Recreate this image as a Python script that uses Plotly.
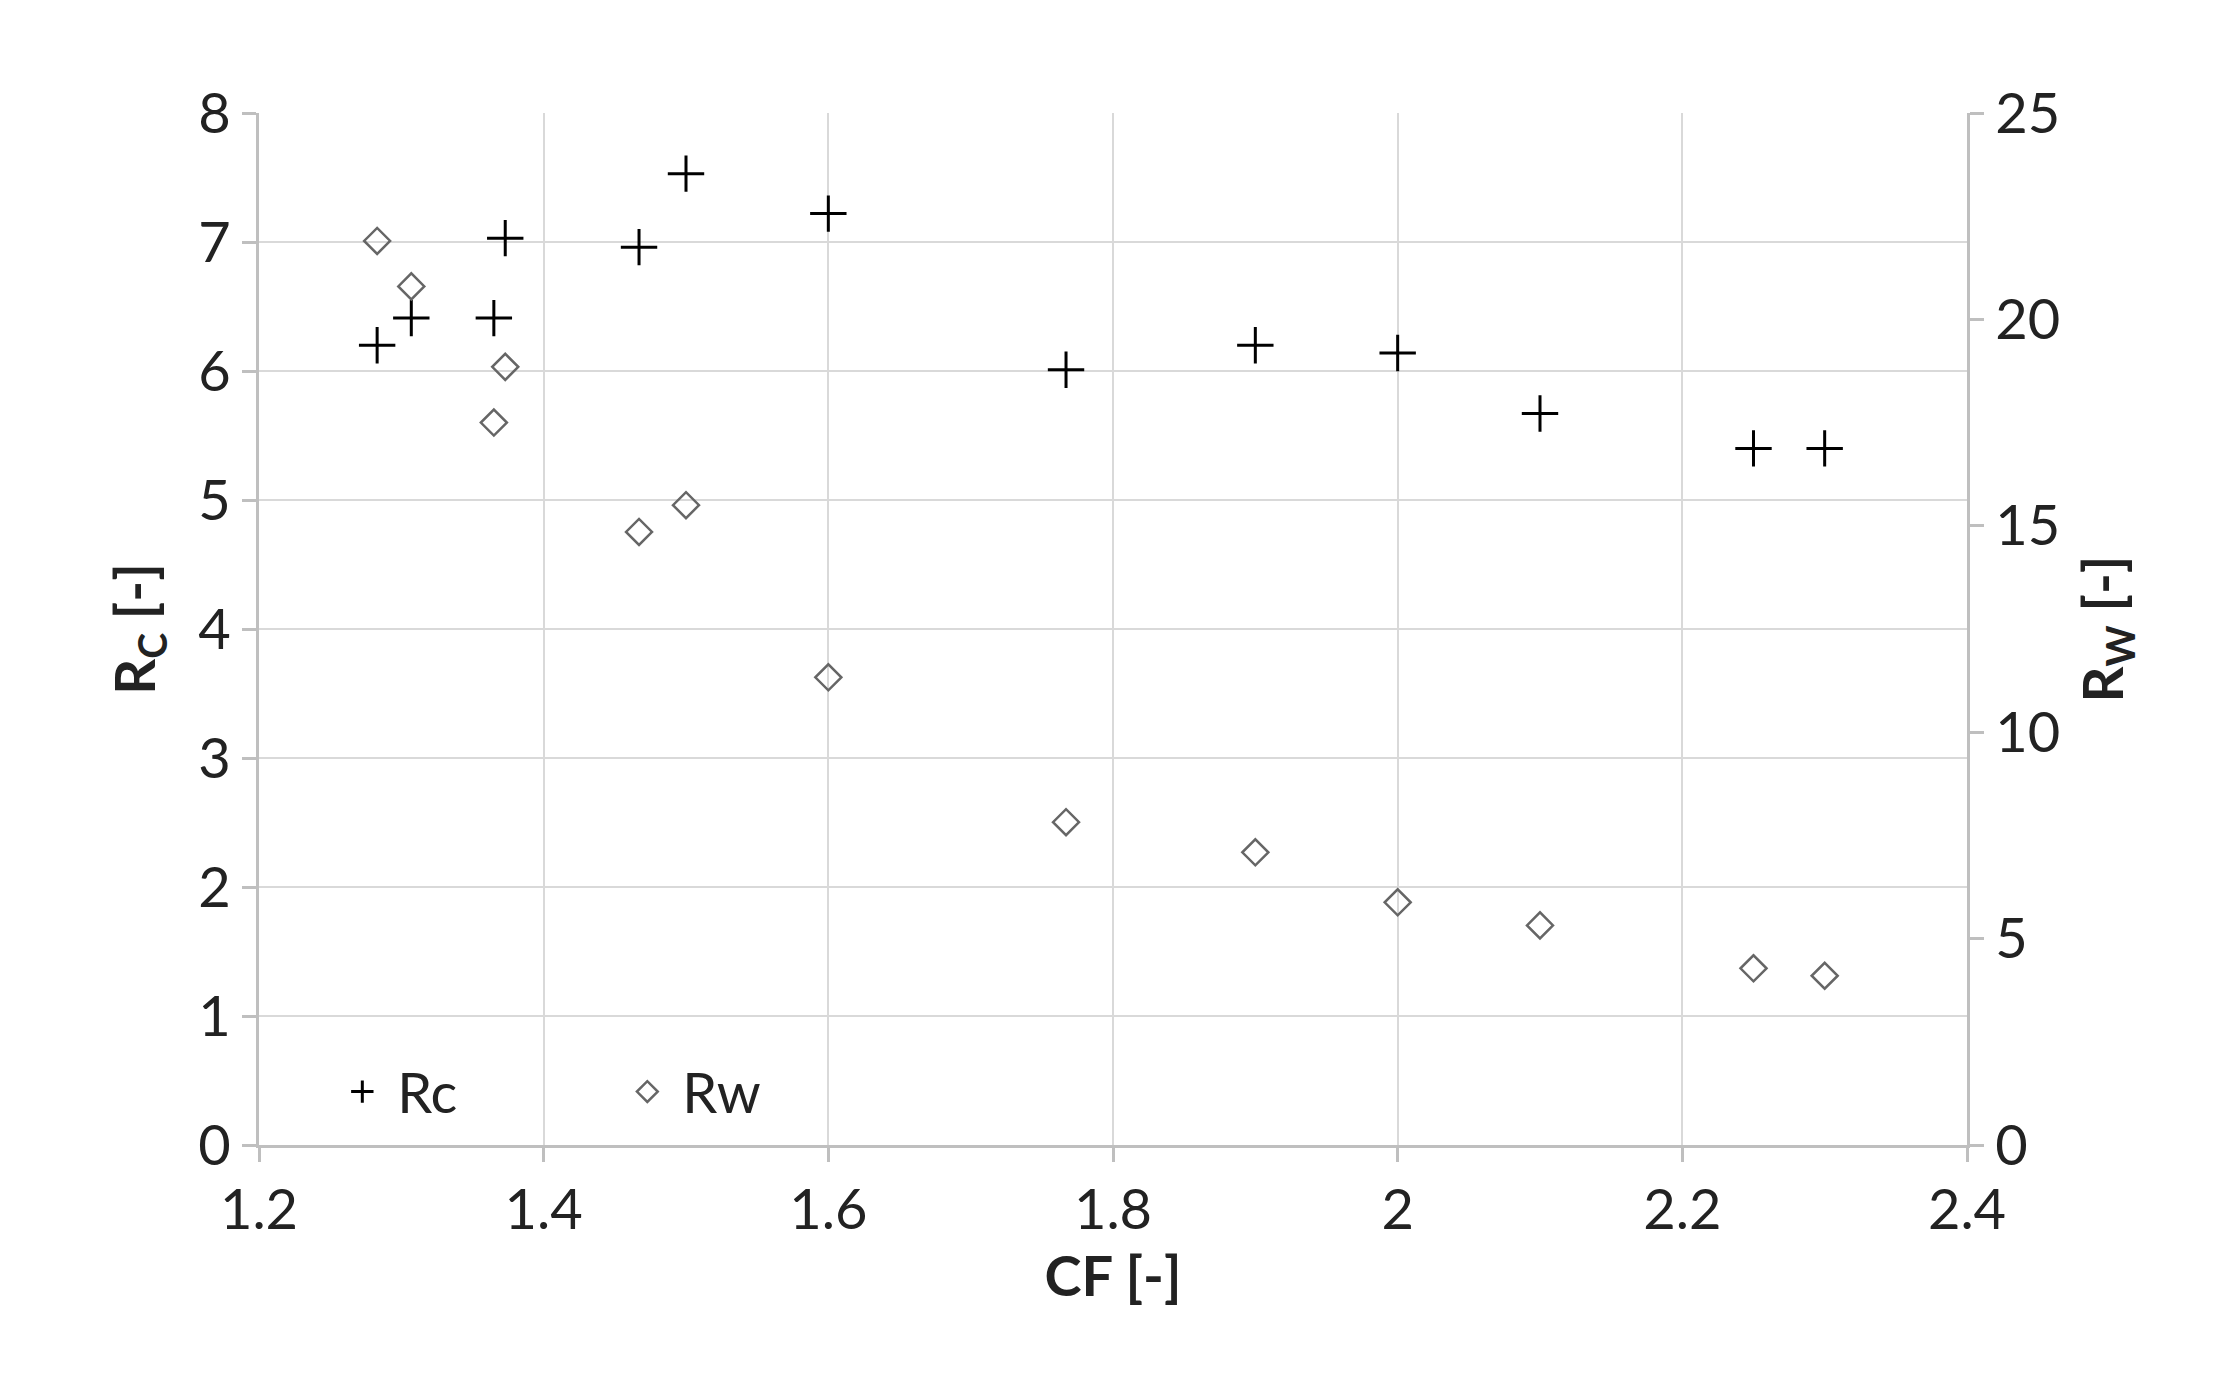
import plotly.graph_objects as go

cf_rc = [1.283, 1.307, 1.365, 1.373, 1.467, 1.5, 1.6, 1.767, 1.9, 2.0, 2.1, 2.25, 2.3]
rc = [6.20, 6.41, 6.41, 7.03, 6.96, 7.53, 7.22, 6.01, 6.20, 6.14, 5.67, 5.40, 5.40]
cf_rw = [1.283, 1.307, 1.373, 1.365, 1.467, 1.5, 1.6, 1.767, 1.9, 2.0, 2.1, 2.25, 2.3]
rw = [21.9, 20.8, 18.85, 17.5, 14.85, 15.5, 11.33, 7.82, 7.09, 5.88, 5.32, 4.28, 4.10]

font = "Lato, Open Sans, sans-serif"
fig = go.Figure()
fig.add_trace(go.Scatter(x=cf_rc, y=rc, mode="markers", name="Rc  ",
    marker=dict(symbol="cross-thin", size=26, line=dict(color="black", width=3))))
fig.add_trace(go.Scatter(x=cf_rw, y=rw, mode="markers", name="Rw", yaxis="y2",
    marker=dict(symbol="diamond-open", size=20, color="#666", line=dict(width=2.5))))

ax = dict(showline=True, linecolor="#bfbfbf", linewidth=3, gridcolor="#d9d9d9", gridwidth=2,
          tickfont=dict(size=56, color="#222", family=font), ticks="outside", ticklen=14,
          tickcolor="#bfbfbf", tickwidth=3, zeroline=False)
tf = dict(size=56, color="#222")
fig.update_layout(
    width=2239, height=1375, plot_bgcolor="white", paper_bgcolor="white",
    margin=dict(l=251, r=280, t=105, b=238),
    font=dict(family=font),
    xaxis=dict(ax, range=[1.2, 2.4], dtick=0.2, tickformat="~g",
               title=dict(text="<b>CF [-]</b>", font=tf, standoff=8)),
    yaxis=dict(ax, range=[0, 8], dtick=1,
               title=dict(text="<b>R<sub>C</sub> [-]</b>", font=tf, standoff=25)),
    yaxis2=dict(ax, range=[0, 25], dtick=5, overlaying="y", side="right", showgrid=False,
                title=dict(text="<b>R<sub>W</sub> [-]</b>", font=tf, standoff=25)),
    legend=dict(orientation="h", x=0.04, y=0.01, xanchor="left", yanchor="bottom",
                font=dict(size=56, color="#222"), bgcolor="rgba(0,0,0,0)", itemwidth=60,
                entrywidth=210),
    showlegend=True,
)
fig.write_html("out.html")
